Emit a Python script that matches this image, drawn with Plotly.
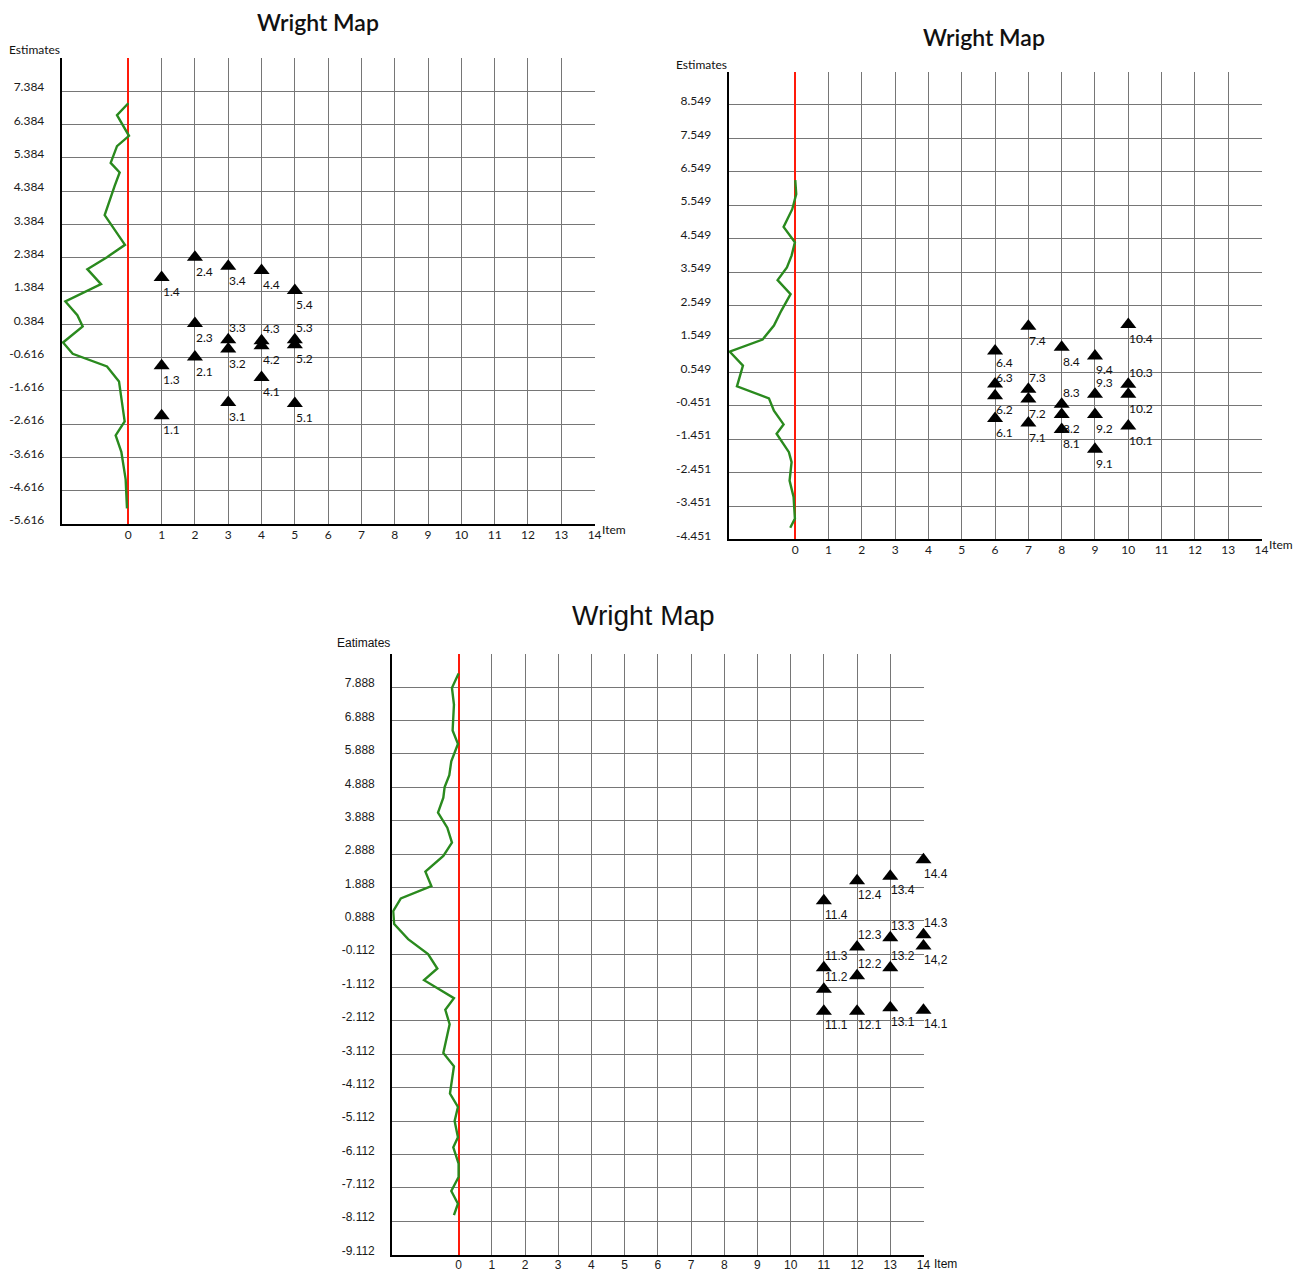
import plotly.graph_objects as go

# ---------------- data ----------------
item_ticks = list(range(0, 15))
item_tick_text = [str(v) for v in item_ticks]

# Panel A (top-left)
est_ticks_a = [-5.616, -4.616, -3.616, -2.616, -1.616, -0.616, 0.384, 1.384,
               2.384, 3.384, 4.384, 5.384, 6.384, 7.384]
est_text_a = ["-5.616", "-4.616", "-3.616", "-2.616", "-1.616", "-0.616", "0.384", "1.384",
              "2.384", "3.384", "4.384", "5.384", "6.384", "7.384"]
person_y_a = [7.02, 6.66, 6.04, 5.73, 5.23, 4.94, 4.54, 3.66, 2.77, 2.40, 2.04, 1.59, 1.07,
              0.66, 0.32, -0.16, -0.50, -0.88, -1.33, -2.53, -2.95, -3.44, -4.27, -5.14]
person_x_a = [0.0, -0.34, 0.02, -0.34, -0.53, -0.26, -0.41, -0.71, -0.10, -0.64, -1.23, -0.82, -1.89,
              -1.53, -1.37, -1.96, -1.67, -0.64, -0.28, -0.11, -0.38, -0.21, -0.08, -0.04]
step_label_a = ["1.1", "1.3", "1.4", "2.1", "2.3", "2.4", "3.1", "3.2", "3.3", "3.4",
                "4.1", "4.2", "4.3", "4.4", "5.1", "5.2", "5.3", "5.4"]
step_item_a = [1, 1, 1, 2, 2, 2, 3, 3, 3, 3, 4, 4, 4, 4, 5, 5, 5, 5]
step_est_a = [-2.36, -0.86, 1.79, -0.60, 0.41, 2.40, -1.96, -0.36, -0.08, 2.13,
              -1.21, -0.26, -0.11, 2.00, -1.99, -0.23, -0.08, 1.40]
above_a = ["3.3", "4.3", "5.3"]

# Panel B (top-right)
est_ticks_b = [-4.451, -3.451, -2.451, -1.451, -0.451, 0.549, 1.549, 2.549,
               3.549, 4.549, 5.549, 6.549, 7.549, 8.549]
est_text_b = ["-4.451", "-3.451", "-2.451", "-1.451", "-0.451", "0.549", "1.549", "2.549",
              "3.549", "4.549", "5.549", "6.549", "7.549", "8.549"]
person_y_b = [6.30, 5.88, 5.43, 4.90, 4.44, 4.04, 3.69, 3.31, 2.89, 2.39, 1.95, 1.53, 1.17,
              0.75, 0.13, -0.23, -0.60, -1.01, -1.29, -1.84, -2.14, -2.69, -3.18, -3.83, -4.10]
person_x_b = [0.0, 0.03, -0.09, -0.35, -0.01, -0.11, -0.25, -0.53, -0.14, -0.42, -0.64, -0.98, -1.97,
              -1.57, -1.75, -0.79, -0.64, -0.35, -0.56, -0.19, -0.11, -0.17, -0.05, -0.01, -0.15]
step_label_b = ["6.1", "6.2", "6.3", "6.4", "7.1", "7.2", "7.3", "7.4", "8.1", "8.2", "8.3", "8.4",
                "9.1", "9.2", "9.3", "9.4", "10.1", "10.2", "10.3", "10.4"]
step_item_b = [6, 6, 6, 6, 7, 7, 7, 7, 8, 8, 8, 8, 9, 9, 9, 9, 10, 10, 10, 10]
step_est_b = [-0.83, -0.15, 0.20, 1.19, -0.97, -0.25, 0.04, 1.93, -1.16, -0.71, -0.41, 1.30,
              -1.75, -0.71, -0.11, 1.04, -1.06, -0.11, 0.19, 1.98]
above_b = ["6.3", "7.3", "8.3", "9.3", "10.3"]

# Panel C (bottom)
est_ticks_c = [-9.112, -8.112, -7.112, -6.112, -5.112, -4.112, -3.112, -2.112, -1.112,
               -0.112, 0.888, 1.888, 2.888, 3.888, 4.888, 5.888, 6.888, 7.888]
est_text_c = ["-9.112", "-8.112", "-7.112", "-6.112", "-5.112", "-4.112", "-3.112", "-2.112", "-1.112",
              "-0.112", "0.888", "1.888", "2.888", "3.888", "4.888", "5.888", "6.888", "7.888"]
person_y_c = [8.30, 7.87, 7.37, 6.59, 6.19, 5.67, 5.25, 4.90, 4.58, 4.13, 3.68, 3.23, 2.83, 2.36,
              1.93, 1.56, 1.18, 0.79, 0.34, -0.11, -0.54, -0.89, -1.43, -1.78, -2.21, -3.07,
              -3.47, -4.29, -4.69, -5.11, -5.60, -5.90, -6.39, -6.79, -7.21, -7.59, -7.93]
person_x_c = [0.0, -0.20, -0.14, -0.18, -0.02, -0.22, -0.28, -0.42, -0.46, -0.62, -0.34, -0.20, -0.46,
              -1.00, -0.82, -1.74, -1.97, -1.94, -1.52, -0.92, -0.64, -1.04, -0.14, -0.40, -0.27,
              -0.46, -0.14, -0.26, -0.02, -0.12, -0.02, -0.16, 0.0, 0.0, -0.22, -0.02, -0.14]
step_label_c = ["11.1", "11.2", "11.3", "11.4", "12.1", "12.2", "12.3", "12.4",
                "13.1", "13.2", "13.3", "13.4", "14.1", "14,2", "14.3", "14.4"]
step_item_c = [11, 11, 11, 11, 12, 12, 12, 12, 13, 13, 13, 13, 14, 14, 14, 14]
step_est_c = [-1.82, -1.16, -0.52, 1.49, -1.82, -0.76, 0.10, 2.09,
              -1.72, -0.52, 0.38, 2.22, -1.79, 0.13, 0.47, 2.72]
above_c = ["11.2", "11.3", "12.2", "12.3", "13.2", "13.3", "14.3"]

# ---------------- styling / layout ----------------
FW, FH = 1305, 1272
TOP_FONT = "Lato"
BOT_FONT = "Liberation Sans"
GRID = "#767676"
GREEN = "#2a8a1e"
RED = "#ff1a0a"
BELOW_SHIFT = -14
ABOVE_SHIFT = 12
LABEL_NUDGE = {"6.3": -6, "6.4": 2}


def px_x(p):
    return p / FW


def px_y(p):
    return 1 - p / FH


panels = [
    dict(xa="x", ya="y", xdom=[62, 598], ydom=[57.9, 525.5], yrange=[-5.616, 8.384],
         ticks=est_ticks_a, ttext=est_text_a, px=person_x_a, py=person_y_a,
         lab=step_label_a, it=step_item_a, est=step_est_a, above=above_a, font=TOP_FONT,
         title_xy=(319, 22), title_size=23, title_weight=600, est_xy=(62, 50), est_text="Estimates",
         item_xy=(603, 531)),
    dict(xa="x2", ya="y2", xdom=[732, 1268], ydom=[71.7, 540.7], yrange=[-4.451, 9.549],
         ticks=est_ticks_b, ttext=est_text_b, px=person_x_b, py=person_y_b,
         lab=step_label_b, it=step_item_b, est=step_est_b, above=above_b, font=TOP_FONT,
         title_xy=(989, 37), title_size=23, title_weight=600, est_xy=(732, 65), est_text="Estimates",
         item_xy=(1273, 546)),
    dict(xa="x3", ya="y3", xdom=[394, 928.4], ydom=[655.4, 1257.5], yrange=[-9.112, 8.888],
         ticks=est_ticks_c, ttext=est_text_c, px=person_x_c, py=person_y_c,
         lab=step_label_c, it=step_item_c, est=step_est_c, above=above_c, font=BOT_FONT,
         title_xy=(646, 617), title_size=28, title_weight=400, est_xy=(394, 645), est_text="Eatimates",
         item_xy=(936, 1267)),
]

fig = go.Figure()
layout = dict(width=FW, height=FH, margin=dict(l=0, r=0, t=0, b=0),
              paper_bgcolor="white", plot_bgcolor="white", showlegend=False,
              hovermode=False)
annotations = []

for i, p in enumerate(panels):
    sfx = "" if i == 0 else str(i + 1)
    tick_font = dict(family=p["font"], size=12, color="#1a1a1a")
    layout["xaxis" + sfx] = dict(
        domain=[px_x(p["xdom"][0]), px_x(p["xdom"][1])], range=[-2, 14.02],
        anchor=p["ya"], tickmode="array", tickvals=item_ticks, ticktext=item_tick_text,
        showgrid=True, gridcolor=GRID, gridwidth=1, zeroline=True, zerolinecolor=RED,
        zerolinewidth=1.6, showline=True, linecolor="black", linewidth=2, ticks="",
        ticklabelstandoff=-2, tickfont=tick_font, fixedrange=True)
    layout["yaxis" + sfx] = dict(
        domain=[px_y(p["ydom"][1]), px_y(p["ydom"][0])], range=p["yrange"],
        anchor=p["xa"], tickmode="array", tickvals=p["ticks"], ticktext=p["ttext"],
        showgrid=True, gridcolor=GRID, gridwidth=1, zeroline=False, showline=True,
        linecolor="black", linewidth=2, ticks="", ticklabelstandoff=13, ticklabelshift=-4,
        tickfont=tick_font, fixedrange=True)

    fig.add_trace(go.Scatter(x=p["px"], y=p["py"], mode="lines", xaxis=p["xa"], yaxis=p["ya"],
                             line=dict(color=GREEN, width=2.4), hoverinfo="skip"))
    fig.add_trace(go.Scatter(x=p["it"], y=p["est"], mode="markers", xaxis=p["xa"], yaxis=p["ya"],
                             marker=dict(symbol="triangle-up", size=14, color="black"),
                             hoverinfo="skip", cliponaxis=False))
    for lab, it, est in zip(p["lab"], p["it"], p["est"]):
        shift = ABOVE_SHIFT if lab in p["above"] else BELOW_SHIFT
        shift += LABEL_NUDGE.get(lab, 0)
        annotations.append(dict(x=it, y=est, xref=p["xa"], yref=p["ya"], text=lab,
                                showarrow=False, xanchor="left", yanchor="middle",
                                xshift=-1, yshift=shift,
                                font=dict(family=p["font"], size=12, color="#111111")))
    tx, ty = p["title_xy"]
    annotations.append(dict(x=px_x(tx), y=px_y(ty), xref="paper", yref="paper", text="Wright Map",
                            showarrow=False, xanchor="center", yanchor="middle",
                            font=dict(family=p["font"], size=p["title_size"], color="#111111",
                                      weight=p["title_weight"])))
    ex, ey = p["est_xy"]
    annotations.append(dict(x=px_x(ex), y=px_y(ey), xref="paper", yref="paper", text=p["est_text"],
                            showarrow=False, xanchor="right", yanchor="middle",
                            font=dict(family=p["font"], size=12, color="#111111")))
    ix, iy = p["item_xy"]
    annotations.append(dict(x=px_x(ix), y=px_y(iy), xref="paper", yref="paper", text="Item",
                            showarrow=False, xanchor="left", yanchor="middle",
                            font=dict(family=p["font"], size=12, color="#111111")))

layout["annotations"] = annotations
fig.update_layout(**layout)
# remove the browser's default 8px page margin so the figure fills the window exactly
fig.write_html("out.html", config={"displayModeBar": False},
               post_script="document.body.style.margin='0';document.body.style.overflow='hidden';")
